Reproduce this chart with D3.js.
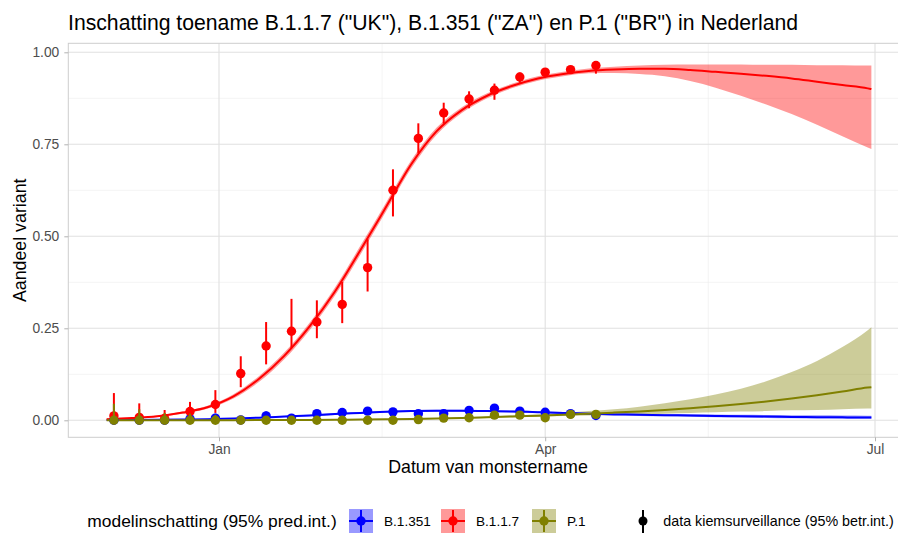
<!DOCTYPE html>
<html lang="nl">
<head>
    <meta charset="UTF-8">
    <!--import D3 lib-->
    <script src="https://cdn.jsdelivr.net/npm/d3@7"></script>
    <style>
        body { margin: 0; background: #fff; }
        svg { font-family: "Liberation Sans", Arial, sans-serif; display: block; }
    </style>
</head>
<body>
    <div id="chart"></div>
</body>
<script>
    // DATA:

    // Weekly sample dates of the model curve (multinomial fit)
    const MODEL_DATES = ["2020-12-01", "2020-12-08", "2020-12-15", "2020-12-22", "2020-12-29",
        "2021-01-05", "2021-01-12", "2021-01-19", "2021-01-26", "2021-02-02", "2021-02-09",
        "2021-02-16", "2021-02-23", "2021-03-02", "2021-03-09", "2021-03-16", "2021-03-23",
        "2021-03-30", "2021-04-06", "2021-04-13", "2021-04-20", "2021-04-27", "2021-05-04",
        "2021-05-11", "2021-05-18", "2021-05-25", "2021-06-01", "2021-06-08", "2021-06-15",
        "2021-06-22", "2021-06-29", "2021-06-30"];

    // B.1.1.7 model: estimate, lower, upper
    const UK_FIT = [0.003, 0.006, 0.011, 0.021, 0.036, 0.065, 0.112, 0.175, 0.255, 0.35, 0.462,
        0.578, 0.695, 0.785, 0.843, 0.882, 0.909, 0.929, 0.941, 0.949, 0.953, 0.955, 0.955,
        0.952, 0.947, 0.942, 0.936, 0.929, 0.92, 0.911, 0.902, 0.90];
    const UK_LO = [0.002, 0.004, 0.009, 0.018, 0.032, 0.059, 0.104, 0.166, 0.245, 0.339, 0.45,
        0.566, 0.684, 0.775, 0.835, 0.875, 0.903, 0.923, 0.935, 0.943, 0.944, 0.941, 0.935,
        0.922, 0.904, 0.882, 0.858, 0.832, 0.803, 0.772, 0.741, 0.737];
    const UK_HI = [0.004, 0.008, 0.013, 0.024, 0.04, 0.071, 0.12, 0.184, 0.265, 0.361, 0.474,
        0.59, 0.706, 0.795, 0.851, 0.889, 0.915, 0.935, 0.947, 0.956, 0.961, 0.964, 0.966,
        0.967, 0.967, 0.967, 0.966, 0.966, 0.965, 0.965, 0.964, 0.964];

    // B.1.351 model
    const ZA_FIT = [0.0005, 0.001, 0.0015, 0.002, 0.003, 0.005, 0.007, 0.01, 0.013, 0.017, 0.02,
        0.023, 0.025, 0.026, 0.026, 0.025, 0.024, 0.022, 0.02, 0.018, 0.016, 0.015, 0.014,
        0.013, 0.012, 0.011, 0.010, 0.009, 0.0085, 0.008, 0.0075, 0.0075];
    const ZA_LO = [0.0002, 0.0005, 0.001, 0.0015, 0.002, 0.0035, 0.0055, 0.008, 0.011, 0.0145,
        0.0175, 0.0205, 0.0225, 0.0235, 0.0235, 0.0225, 0.0215, 0.0195, 0.0175, 0.0155, 0.0135,
        0.012, 0.011, 0.0095, 0.0085, 0.0075, 0.0065, 0.0058, 0.005, 0.0045, 0.004, 0.004];
    const ZA_HI = [0.001, 0.0016, 0.0022, 0.003, 0.0042, 0.0065, 0.009, 0.012, 0.015, 0.0195,
        0.0225, 0.0255, 0.0275, 0.0285, 0.0285, 0.0275, 0.0265, 0.0245, 0.0225, 0.0205, 0.0185,
        0.018, 0.017, 0.0165, 0.016, 0.015, 0.0145, 0.014, 0.0135, 0.013, 0.0125, 0.0125];

    // P.1 model
    const BR_FIT = [0.0001, 0.0001, 0.0002, 0.0002, 0.0003, 0.0004, 0.0006, 0.0008, 0.001, 0.0014,
        0.0019, 0.0026, 0.0035, 0.0047, 0.0063, 0.0084, 0.0105, 0.0125, 0.015, 0.018, 0.021, 0.024,
        0.028, 0.033, 0.038, 0.044, 0.051, 0.059, 0.068, 0.078, 0.089, 0.09];
    const BR_LO = [0.00003, 0.00004, 0.00006, 0.0001, 0.00013, 0.0002, 0.0003, 0.0004, 0.0006,
        0.0009, 0.0013, 0.0018, 0.0025, 0.0035, 0.0048, 0.0065, 0.0082, 0.0098, 0.0115, 0.013,
        0.0145, 0.016, 0.018, 0.02, 0.022, 0.024, 0.025, 0.027, 0.028, 0.030, 0.032, 0.032];
    const BR_HI = [0.0004, 0.0004, 0.0005, 0.0006, 0.0007, 0.0009, 0.0011, 0.0014, 0.0017, 0.0022,
        0.0028, 0.0036, 0.0047, 0.0062, 0.0082, 0.0105, 0.013, 0.016, 0.02, 0.025, 0.030, 0.037,
        0.046, 0.057, 0.07, 0.086, 0.106, 0.131, 0.161, 0.199, 0.245, 0.253];

    // Weekly kiemsurveillance observations
    const OBS_DATES = ["2020-12-03", "2020-12-10", "2020-12-17", "2020-12-24", "2020-12-31",
        "2021-01-07", "2021-01-14", "2021-01-21", "2021-01-28", "2021-02-04", "2021-02-11",
        "2021-02-18", "2021-02-25", "2021-03-04", "2021-03-11", "2021-03-18", "2021-03-25",
        "2021-04-01", "2021-04-08", "2021-04-15"];

    const UK_OBS = [0.012, 0.008, 0.005, 0.024, 0.043, 0.127, 0.202, 0.242, 0.267, 0.315, 0.415,
        0.625, 0.766, 0.835, 0.873, 0.897, 0.933, 0.946, 0.953, 0.964];
    const UK_OBS_LO = [0.0, 0.0, 0.0, 0.008, 0.02, 0.09, 0.152, 0.196, 0.223, 0.264, 0.35, 0.554,
        0.726, 0.806, 0.848, 0.871, 0.917, 0.937, 0.945, 0.942];
    const UK_OBS_HI = [0.074, 0.046, 0.028, 0.05, 0.082, 0.174, 0.267, 0.33, 0.326, 0.376, 0.492,
        0.682, 0.807, 0.863, 0.894, 0.915, 0.945, 0.955, 0.962, 0.975];

    const ZA_OBS = [0.0, 0.0, 0.0, 0.004, 0.006, 0.001, 0.012, 0.006, 0.018, 0.021, 0.025, 0.023,
        0.018, 0.018, 0.027, 0.033, 0.025, 0.022, 0.018, 0.013];
    const ZA_OBS_LO = [0, 0, 0, 0, 0, 0, 0.004, 0.001, 0.01, 0.013, 0.017, 0.015, 0.011, 0.011,
        0.019, 0.025, 0.018, 0.016, 0.012, 0.006];
    const ZA_OBS_HI = [0.02, 0.015, 0.012, 0.014, 0.018, 0.008, 0.024, 0.016, 0.028, 0.031, 0.035,
        0.032, 0.027, 0.026, 0.036, 0.043, 0.033, 0.03, 0.026, 0.022];

    const BR_OBS = [0, 0, 0, 0, 0, 0, 0, 0, 0, 0, 0, 0, 0.002, 0.006, 0.007, 0.014, 0.014, 0.007,
        0.016, 0.016];
    const BR_OBS_LO = [0, 0, 0, 0, 0, 0, 0, 0, 0, 0, 0, 0, 0, 0.001, 0.002, 0.008, 0.008, 0.002,
        0.01, 0.009];
    const BR_OBS_HI = [0.045, 0.03, 0.02, 0.018, 0.015, 0.008, 0.01, 0.008, 0.006, 0.006, 0.005,
        0.005, 0.008, 0.013, 0.014, 0.022, 0.021, 0.013, 0.024, 0.025];

    // Variants in legend (factor) order
    const VARIANTS = ["B.1.351", "B.1.1.7", "P.1"];
    const COLORS = ["#0000ff", "#ff0000", "#808000"];

    const Y_TICKS = [0, 0.25, 0.5, 0.75, 1];
    const Y_MINOR = [0.125, 0.375, 0.625, 0.875];
    const X_TICKS = ["2021-01-01", "2021-04-01", "2021-07-01"];
    const X_MINOR = ["2021-02-15", "2021-05-16"];

    const TITLE = 'Inschatting toename B.1.1.7 ("UK"), B.1.351 ("ZA") en P.1 ("BR") in Nederland';

    // LAYOUT:
    const WIDTH = 898, HEIGHT = 534;
    const PANEL = { left: 68.3, top: 43.3, right: 909.6, bottom: 437.3 };
    const parse = d3.utcParse("%Y-%m-%d");

    const x = d3.scaleUtc()
        .domain([parse("2021-01-01"), parse("2021-07-01")])
        .range([219, 875]);
    const y = d3.scaleLinear()
        .domain([0, 1])
        .range([420.3, 52.3]);

    const svg = d3.select("#chart").append("svg")
        .attr("width", WIDTH)
        .attr("height", HEIGHT);

    // panel grid
    const grid = svg.append("g");
    grid.selectAll(".ymin").data(Y_MINOR).enter().append("line")
        .attr("x1", PANEL.left).attr("x2", PANEL.right)
        .attr("y1", d => y(d)).attr("y2", d => y(d))
        .attr("stroke", "#ececec").attr("stroke-width", 0.6);
    grid.selectAll(".xmin").data(X_MINOR).enter().append("line")
        .attr("x1", d => x(parse(d))).attr("x2", d => x(parse(d)))
        .attr("y1", PANEL.top).attr("y2", PANEL.bottom)
        .attr("stroke", "#ececec").attr("stroke-width", 0.6);
    grid.selectAll(".ymaj").data(Y_TICKS).enter().append("line")
        .attr("x1", PANEL.left).attr("x2", PANEL.right)
        .attr("y1", d => y(d)).attr("y2", d => y(d))
        .attr("stroke", "#e0e0e0").attr("stroke-width", 1.1);
    grid.selectAll(".xmaj").data(X_TICKS).enter().append("line")
        .attr("x1", d => x(parse(d))).attr("x2", d => x(parse(d)))
        .attr("y1", PANEL.top).attr("y2", PANEL.bottom)
        .attr("stroke", "#e0e0e0").attr("stroke-width", 1.1);

    // series tables
    const fits = [[ZA_FIT, ZA_LO, ZA_HI], [UK_FIT, UK_LO, UK_HI], [BR_FIT, BR_LO, BR_HI]];
    const obs = [[ZA_OBS, ZA_OBS_LO, ZA_OBS_HI], [UK_OBS, UK_OBS_LO, UK_OBS_HI], [BR_OBS, BR_OBS_LO, BR_OBS_HI]];
    const modelRows = fits.map(f => MODEL_DATES.map((d, i) => ({ date: parse(d), fit: f[0][i], lo: f[1][i], hi: f[2][i] })));
    const obsRows = obs.map(o => OBS_DATES.map((d, i) => ({ date: parse(d), v: o[0][i], lo: o[1][i], hi: o[2][i] })));

    const plot = svg.append("g");

    // ribbons
    const area = d3.area().curve(d3.curveMonotoneX)
        .x(d => x(d.date)).y0(d => y(d.lo)).y1(d => y(d.hi));
    plot.selectAll(".ribbon").data(modelRows).enter().append("path")
        .attr("d", area)
        .attr("fill", (d, i) => COLORS[i])
        .attr("fill-opacity", 0.4);

    // fit lines
    const line = d3.line().curve(d3.curveMonotoneX)
        .x(d => x(d.date)).y(d => y(d.fit));
    plot.selectAll(".fit").data(modelRows).enter().append("path")
        .attr("d", line)
        .attr("fill", "none")
        .attr("stroke", (d, i) => COLORS[i])
        .attr("stroke-width", 2);

    // point ranges
    obsRows.forEach((rows, i) => {
        const g = plot.append("g");
        g.selectAll("line").data(rows).enter().append("line")
            .attr("x1", d => x(d.date)).attr("x2", d => x(d.date))
            .attr("y1", d => y(d.lo)).attr("y2", d => y(d.hi))
            .attr("stroke", COLORS[i]).attr("stroke-width", 2);
        g.selectAll("circle").data(rows).enter().append("circle")
            .attr("cx", d => x(d.date)).attr("cy", d => y(d.v))
            .attr("r", 4.7)
            .attr("fill", COLORS[i]);
    });

    // panel border
    svg.append("rect")
        .attr("x", PANEL.left).attr("y", PANEL.top)
        .attr("width", PANEL.right - PANEL.left).attr("height", PANEL.bottom - PANEL.top)
        .attr("fill", "none").attr("stroke", "#cdcdcd").attr("stroke-width", 1);

    // axes
    const yAxis = d3.axisLeft(y).tickValues(Y_TICKS).tickFormat(d3.format(".2f")).tickSize(4).tickPadding(5);
    const xAxis = d3.axisBottom(x).tickValues(X_TICKS.map(parse)).tickFormat(d3.utcFormat("%b")).tickSize(4).tickPadding(3);
    const ya = svg.append("g").attr("transform", `translate(${PANEL.left},0)`).call(yAxis);
    const xa = svg.append("g").attr("transform", `translate(0,${PANEL.bottom})`).call(xAxis);
    [ya, xa].forEach(a => {
        a.select(".domain").remove();
        a.selectAll(".tick line").attr("stroke", "#b3b3b3");
        a.selectAll(".tick text").attr("fill", "#4d4d4d").style("font-size", "13.8px")
            .style("font-family", '"Liberation Sans", Arial, sans-serif');
    });

    // titles
    svg.append("text").attr("x", 68).attr("y", 29.5)
        .style("font-size", "21.2px").attr("fill", "#000").text(TITLE);
    svg.append("text").attr("x", 488).attr("y", 473)
        .attr("text-anchor", "middle").style("font-size", "17.8px").text("Datum van monstername");
    svg.append("text").attr("transform", `translate(26,${(PANEL.top + PANEL.bottom) / 2}) rotate(-90)`)
        .attr("text-anchor", "middle").style("font-size", "17.8px").text("Aandeel variant");

    // LEGEND:
    const LEG_Y = 521;
    const leg = svg.append("g");
    leg.append("text").attr("x", 87.3).attr("y", LEG_Y + 6)
        .style("font-size", "17.4px").text("modelinschatting (95% pred.int.)");
    const KEY_X = [349, 441, 532];
    VARIANTS.forEach((v, i) => {
        const k = leg.append("g").attr("transform", `translate(${KEY_X[i]},${LEG_Y - 12})`);
        k.append("rect").attr("width", 24).attr("height", 24)
            .attr("fill", COLORS[i]).attr("fill-opacity", 0.4);
        k.append("line").attr("x1", 0).attr("x2", 24).attr("y1", 12).attr("y2", 12)
            .attr("stroke", COLORS[i]).attr("stroke-width", 2);
        k.append("line").attr("x1", 12).attr("x2", 12).attr("y1", 1).attr("y2", 23)
            .attr("stroke", COLORS[i]).attr("stroke-width", 2);
        k.append("circle").attr("cx", 12).attr("cy", 12).attr("r", 4.7).attr("fill", COLORS[i]);
        leg.append("text").attr("x", KEY_X[i] + 35).attr("y", LEG_Y + 5)
            .style("font-size", "13.6px").text(v);
    });
    leg.append("line").attr("x1", 643).attr("x2", 643).attr("y1", LEG_Y - 11).attr("y2", LEG_Y + 12)
        .attr("stroke", "#000").attr("stroke-width", 2);
    leg.append("circle").attr("cx", 643).attr("cy", LEG_Y).attr("r", 4.5).attr("fill", "#000");
    leg.append("text").attr("x", 663.3).attr("y", LEG_Y + 5)
        .style("font-size", "14.3px").text("data kiemsurveillance (95% betr.int.)");
</script>
</html>
